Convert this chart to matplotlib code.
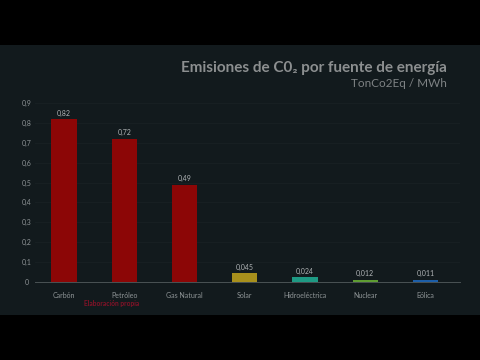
import matplotlib
matplotlib.use('Agg')
import matplotlib.pyplot as plt
from matplotlib.patches import Rectangle

plt.rcParams['font.family'] = ['Lato', 'DejaVu Sans']

# datos
fuentes = ['Carbón', 'Petróleo', 'Gas Natural', 'Solar', 'Hidroeléctrica', 'Nuclear', 'Eólica']
emisiones = [0.82, 0.72, 0.49, 0.045, 0.024, 0.012, 0.011]
etiquetas = ['0,82', '0,72', '0,49', '0,045', '0,024', '0,012', '0,011']
colores = ['#8c0606', '#8c0606', '#8c0606', '#a8901c', '#1e9a84', '#5e9c32', '#1c5ea8']
yticks = [0, 0.1, 0.2, 0.3, 0.4, 0.5, 0.6, 0.7, 0.8, 0.9]
ytick_labels = ['0', '0,1', '0,2', '0,3', '0,4', '0,5', '0,6', '0,7', '0,8', '0,9']

fig = plt.figure(figsize=(4.8, 3.6), dpi=100, facecolor='black')
# panel oscuro (bandas negras arriba y abajo)
fig.add_artist(Rectangle((0, 0.125), 1, 0.75, transform=fig.transFigure,
                         facecolor='#121a1d', edgecolor='none', zorder=-5))

ax = fig.add_axes([0.073, 0.2167, 0.885, 0.4972])
ax.set_facecolor('none')
ax.set_zorder(1)

x = range(len(fuentes))
ax.bar(x, emisiones, width=0.42, color=colores, zorder=2)
for xi, v, t in zip(x, emisiones, etiquetas):
    ax.text(xi, v + 0.012, t, ha='center', va='bottom', fontsize=5, color='#b0b4b6')

ax.set_xlim(-0.48, 6.57)
ax.set_ylim(0, 0.9)
ax.set_yticks(yticks)
ax.set_yticklabels(ytick_labels)
ax.set_xticks(list(x))
ax.set_xticklabels(fuentes)
ax.tick_params(axis='both', length=0, labelsize=5, colors='#8e9496')
ax.tick_params(axis='x', pad=7)
ax.tick_params(axis='y', pad=6)
for lab in ax.get_yticklabels():
    lab.set_horizontalalignment('center')
ax.grid(axis='y', color='#182124', linewidth=0.6, zorder=0)
for s in ['top', 'right', 'left']:
    ax.spines[s].set_visible(False)
ax.spines['bottom'].set_color('#4a5254')
ax.spines['bottom'].set_linewidth(0.7)

# títulos
fig.text(0.932, 0.811, 'Emisiones de C0₂ por fuente de energía', ha='right', va='center',
         fontsize=11, fontweight='bold', color='#8c8f90')
fig.text(0.932, 0.767, 'TonCo2Eq / MWh', ha='right', va='center',
         fontsize=8.5, color='#7e8284')

# nota en rojo bajo el eje
fig.text(0.232, 0.158, 'Elaboración propia', ha='center', va='center',
         fontsize=4.8, fontweight='bold', color='#a0102a', alpha=0.8)

fig.savefig('out.png', dpi=100, facecolor='black')
